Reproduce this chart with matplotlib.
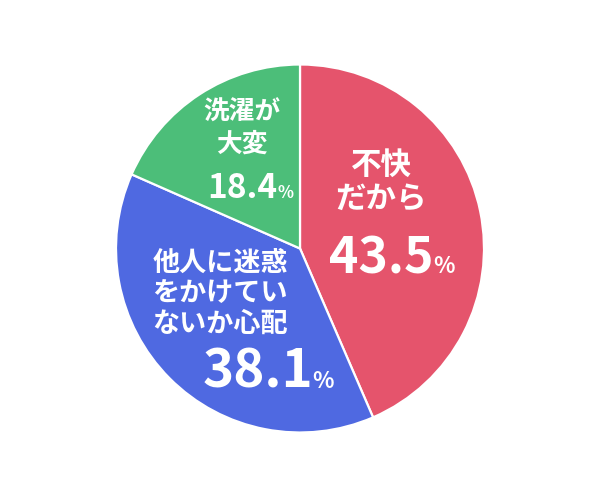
import matplotlib
matplotlib.use('Agg')
import matplotlib.pyplot as plt

plt.rcParams['font.family'] = ['Noto Sans CJK JP', 'DejaVu Sans']

# data
labels = ['不快\nだから', '他人に迷惑\nをかけてい\nないか心配', '洗濯が\n大変']
values = [43.5, 38.1, 18.4]
colors = ['#E5546C', '#4F69E1', '#4CBE79']

W, H = 600, 494
fig = plt.figure(figsize=(W / 100, H / 100), dpi=100)
ax = fig.add_axes([0, 0, 1, 1])

cx, cy, r = 300, H - 248.5, 184
ax.pie(values, colors=colors, startangle=90, counterclock=False,
       center=(cx, cy), radius=r,
       wedgeprops=dict(edgecolor='white', linewidth=1.6))
# pie() resets the limits, so set the pixel frame afterwards
ax.set_xlim(0, W)
ax.set_ylim(0, H)
ax.set_aspect('equal')
ax.axis('off')

# label positions (pixel coords, y from top): text centre, number baseline
name_pos = [(381, 149), (220, 249), (242, 99)]
name_size = [22, 19.5, 18.5]
line_sp = [1.1, 1.1, 1.2]
num_pos = [(434, 273), (313, 388), (277, 198)]
num_size = [36, 38, 24]
pct_size = [16, 16, 12]
pct_gap = [-1, -1, 1]

for i in range(len(values)):
    nx, ny = name_pos[i]
    ax.text(nx, H - ny, labels[i], ha='center', va='top', color='white',
            fontsize=name_size[i], fontweight='bold', linespacing=line_sp[i])
    px, py = num_pos[i]
    ax.text(px, H - py, f'{values[i]:.1f}', ha='right', va='baseline',
            color='white', fontsize=num_size[i], fontweight='bold')
    ax.text(px + pct_gap[i], H - py, '%', ha='left', va='baseline',
            color='white', fontsize=pct_size[i], fontweight='bold')

fig.savefig('out.png', dpi=100, facecolor='white')
